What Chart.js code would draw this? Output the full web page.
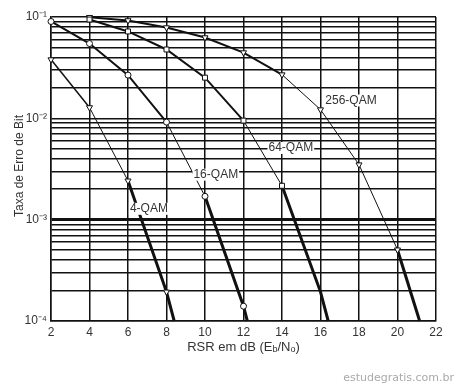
<!DOCTYPE html>
<html>
<head>
<meta charset="utf-8">
<script src="https://cdn.jsdelivr.net/npm/chart.js@4/dist/chart.umd.min.js"></script>
<style>
html,body{margin:0;padding:0;background:#fff;}
#wrap{position:relative;width:456px;height:386px;}
</style>
</head>
<body>
<div id="wrap"><canvas id="c" width="456" height="386"></canvas></div>
<script>
// Data
const snr4   = [2, 4, 6, 8, 8.4];
const ber4   = [0.038, 0.0128, 0.00242, 0.000194, 0.0001];
const snr16  = [2, 4, 6, 8, 10, 12, 12.2];
const ber16  = [0.0903, 0.0547, 0.0267, 0.00918, 0.0017, 0.00014, 0.0001];
const snr64  = [4, 6, 8, 10, 12, 14, 16, 16.4];
const ber64  = [0.0944, 0.072, 0.0478, 0.0252, 0.0095, 0.00216, 0.000194, 0.0001];
const snr256 = [4, 6, 8, 10, 12, 14, 16, 18, 20, 21.15];
const ber256 = [0.0995, 0.0924, 0.0787, 0.0627, 0.0446, 0.027, 0.0122, 0.00349, 0.000505, 0.0001];
const seriesNames = ['4-QAM', '16-QAM', '64-QAM', '256-QAM'];
// label anchors in data units (x, BER)
const labelX = [6.1, 9.4, 13.3, 16.25];
const labelY = [0.00128, 0.00278, 0.0051, 0.015];
const xTicks = [2, 4, 6, 8, 10, 12, 14, 16, 18, 20, 22];
const yDecades = [1e-4, 1e-3, 1e-2, 1e-1];
const yTickLabels = ['10\u207B\u2074', '10\u207B\u00B3', '10\u207B\u00B2', '10\u207B\u00B9'];

function pts(xs, ys){ return xs.map((x,i)=>({x:x, y:ys[i]})); }

// segment width rules: [thinFrom, thickFrom]
function segWidth(thinFrom, thickFrom, topW){
  return ctx => {
    const i = ctx.p0DataIndex;
    if (i >= thickFrom) return 3;
    if (i >= thinFrom) return 1;
    return topW;
  };
}

function ds(xs, ys, style, rot, thinFrom, thickFrom, topW){
  const n = xs.length;
  return {
    data: pts(xs, ys),
    borderColor: '#111',
    backgroundColor: '#fff',
    pointBackgroundColor: '#fff',
    pointBorderColor: '#111',
    pointBorderWidth: 1,
    pointStyle: style,
    pointRotation: rot,
    pointRadius: xs.map((x,i)=> i === n-1 ? 0 : 3.5),
    borderWidth: 2,
    tension: 0,
    segment: { borderWidth: segWidth(thinFrom, thickFrom, topW) },
    clip: false
  };
}

const datasets = [
  ds(snr4, ber4, 'triangle', 180, 1, 2, 1.5),
  ds(snr16, ber16, 'circle', 0, 3, 4, 2),
  ds(snr64, ber64, 'rect', 0, 4, 5, 2),
  ds(snr256, ber256, 'triangle', 180, 5, 8, 2)
];
datasets[2].pointRadius = snr64.map((x,i)=> (i >= snr64.length-2) ? 0 : 3.5);
datasets[1].pointRadius = snr16.map((x,i)=> i === snr16.length-1 ? 0 : 3);

const textColor = '#333';
const fontFam = '"Liberation Sans", Arial, sans-serif';

const annot = {
  id: 'annot',
  afterDatasetsDraw(chart){
    const c = chart.ctx;
    const xs = chart.scales.x, ys = chart.scales.y;
    c.save();
    c.fillStyle = textColor;
    c.font = '12px ' + fontFam;
    c.textBaseline = 'middle';
    c.textAlign = 'left';
    seriesNames.forEach((n,i)=>{
      const px = xs.getPixelForValue(labelX[i]);
      const py = ys.getPixelForValue(labelY[i]);
      c.fillStyle = '#fff';
      const w = c.measureText(n).width;
      c.fillRect(px-1, py-6, w+2, 12);
      c.fillStyle = textColor;
      c.fillText(n, px, py);
    });
    // x axis title with subscripts
    const ca = chart.chartArea;
    const cx = (ca.left + ca.right)/2;
    const ty = ca.bottom + 26;
    const big = '13px ' + fontFam, small = '9px ' + fontFam;
    const parts = [['RSR em dB (E', big, 0], ['b', small, 3], ['/N', big, 0], ['o', small, 3], [')', big, 0]];
    let total = 0;
    parts.forEach(p=>{ c.font = p[1]; total += c.measureText(p[0]).width; });
    let x = cx - total/2;
    parts.forEach(p=>{ c.font = p[1]; c.fillText(p[0], x, ty + p[2]); x += c.measureText(p[0]).width; });
    // y axis title
    c.save();
    c.font = '12px ' + fontFam;
    c.translate(20, (ca.top + ca.bottom)/2 - 3);
    c.rotate(-Math.PI/2);
    c.textAlign = 'center';
    c.fillText('Taxa de Erro de Bit', 0, 0);
    c.restore();
    // watermark
    c.font = '11px "DejaVu Sans", sans-serif';
    c.fillStyle = '#aaa';
    c.textAlign = 'right';
    c.fillText('estudegratis.com.br', 454, 378);
    c.restore();
  }
};

new Chart(document.getElementById('c'), {
  type: 'line',
  data: { datasets },
  plugins: [annot],
  options: {
    responsive: false,
    animation: false,
    layout: { padding: { top: 17, right: 20, left: 0, bottom: 0 } },
    plugins: { legend: { display: false }, tooltip: { enabled: false } },
    scales: {
      x: {
        type: 'linear', min: 2, max: 22,
        afterBuildTicks: s => { s.ticks = xTicks.map(v=>({value:v})); },
        afterFit: s => { s.height = 65; },
        grid: { color: '#111', lineWidth: 1.5, drawTicks: false },
        border: { color: '#111', width: 1.5 },
        ticks: { color: textColor, font: { size: 12, family: fontFam }, padding: 4,
                 callback: v => String(v), maxRotation: 0 }
      },
      y: {
        type: 'logarithmic', min: 1e-4, max: 1e-1,
        afterBuildTicks: s => {
          const t = [];
          for (let e = -4; e < -1; e++) for (let m = 1; m <= 9; m++) t.push({value: m * Math.pow(10, e)});
          t.push({value: 1e-1});
          s.ticks = t;
        },
        afterFit: s => { s.width = 51; },
        grid: {
          color: '#111',
          lineWidth: ctx => (ctx.tick && Math.abs(ctx.tick.value - 1e-3) < 1e-9) ? 3 : 1.5,
          drawTicks: false
        },
        border: { color: '#111', width: 1.5 },
        ticks: {
          color: textColor, font: { size: 12, family: fontFam }, padding: 4, autoSkip: false,
          callback: (v) => {
            for (let i = 0; i < yDecades.length; i++) if (Math.abs(v - yDecades[i]) / yDecades[i] < 1e-6) return yTickLabels[i];
            return '';
          }
        }
      }
    }
  }
});
</script>
</body>
</html>
